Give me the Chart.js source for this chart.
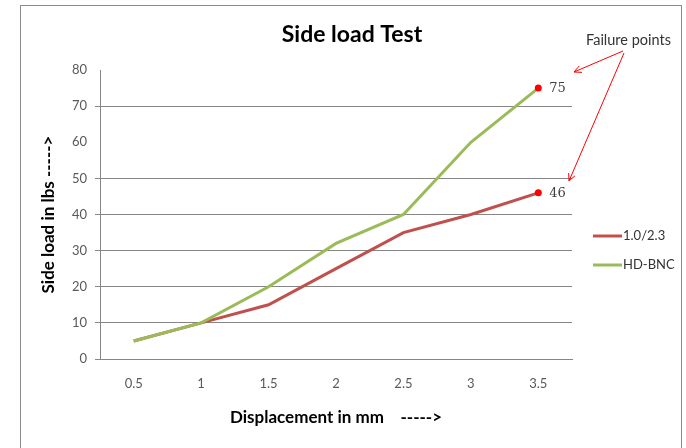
<!DOCTYPE html>
<html>
<head>
<meta charset="utf-8">
<script src="https://cdn.jsdelivr.net/npm/chart.js@4"></script>
<style>
  html, body { margin: 0; padding: 0; background: #fff; }
  #wrap { position: relative; width: 686px; height: 448px; overflow: hidden; }
  #frame { position: absolute; left: 20px; top: 5px; width: 662px; height: 460px; border: 1px solid #8c8c8c; box-sizing: border-box; }
  canvas { position: absolute; left: 0; top: 0; }
</style>
</head>
<body>
<div id="wrap">
  <div id="frame"></div>
  <canvas id="chart" width="686" height="448"></canvas>
</div>
<script>
const displacement = ['0.5', '1', '1.5', '2', '2.5', '3', '3.5'];
const load_1023 = [5, 10, 15, 25, 35, 40, 46];
const load_hdbnc = [5, 10, 20, 32, 40, 60, 75];
const yTicks = [0, 10, 20, 30, 40, 50, 60, 70, 80];

const FONT = 'Lato, "Open Sans", sans-serif';
const lastPoint = (ctx) => ctx.dataIndex === ctx.dataset.data.length - 1;

const decorations = {
  id: 'decorations',
  afterDatasetsDraw(chart) {
    const { ctx } = chart;
    ctx.save();

    // title
    ctx.fillStyle = '#000';
    ctx.font = 'bold 23px ' + FONT;
    ctx.textAlign = 'center';
    ctx.textBaseline = 'middle';
    ctx.fillText('Side load Test', 352, 35);

    // failure labels next to the last points
    ctx.font = '13px "DejaVu Serif", serif';
    ctx.fillStyle = '#404040';
    ctx.textAlign = 'left';
    chart.data.datasets.forEach((ds, i) => {
      const pt = chart.getDatasetMeta(i).data[ds.data.length - 1];
      ctx.fillText(String(ds.data[ds.data.length - 1]), pt.x + 11, pt.y + 1);
    });

    // legend
    ctx.font = '13px ' + FONT;
    chart.data.datasets.forEach((ds, i) => {
      const y = 236 + i * 29;
      ctx.strokeStyle = ds.borderColor;
      ctx.lineWidth = 3;
      ctx.beginPath();
      ctx.moveTo(593, y);
      ctx.lineTo(622, y);
      ctx.stroke();
      ctx.fillStyle = '#333';
      ctx.fillText(ds.label, 623, y);
    });

    // failure points annotation
    ctx.font = '14.5px ' + FONT;
    ctx.fillStyle = '#333';
    ctx.fillText('Failure points', 586, 40);
    const arrow = (x1, y1, x2, y2) => {
      ctx.strokeStyle = '#ff0000';
      ctx.lineWidth = 1;
      ctx.beginPath();
      ctx.moveTo(x1, y1);
      ctx.lineTo(x2, y2);
      ctx.stroke();
      const a = Math.atan2(y2 - y1, x2 - x1);
      ctx.beginPath();
      ctx.moveTo(x2 - 8 * Math.cos(a - 0.45), y2 - 8 * Math.sin(a - 0.45));
      ctx.lineTo(x2, y2);
      ctx.lineTo(x2 - 8 * Math.cos(a + 0.45), y2 - 8 * Math.sin(a + 0.45));
      ctx.stroke();
    };
    arrow(623, 51, 574, 72);
    arrow(624, 53, 569, 181);

    ctx.restore();
  }
};

const pointStyle = {
  pointRadius: (ctx) => lastPoint(ctx) ? 3.5 : 0,
  pointBackgroundColor: '#ff0000',
  pointBorderColor: '#ff0000',
  pointBorderWidth: 0
};

new Chart(document.getElementById('chart'), {
  type: 'line',
  data: {
    labels: displacement,
    datasets: [
      { label: '1.0/2.3', data: load_1023, borderColor: '#c0504d', borderWidth: 3, tension: 0, order: 2, ...pointStyle },
      { label: 'HD-BNC', data: load_hdbnc, borderColor: '#9bbb59', borderWidth: 3, tension: 0, order: 1, ...pointStyle }
    ]
  },
  options: {
    responsive: false,
    animation: false,
    layout: { padding: { left: 0, right: 114, top: 70, bottom: 0 } },
    plugins: {
      legend: { display: false },
      title: { display: false },
      tooltip: { enabled: false }
    },
    scales: {
      x: {
        offset: true,
        grid: { display: false, tickLength: 0 },
        border: { display: true, color: '#868686', width: 1 },
        ticks: { color: '#595959', font: { family: FONT, size: 13 }, padding: 17, maxRotation: 0 },
        title: {
          display: true,
          text: 'Displacement in mm    ----->',
          color: '#000',
          font: { family: FONT, size: 17, weight: 'bold' },
          padding: { top: 0, bottom: 20 }
        },
        afterFit: (scale) => { scale.height = 448 - 359; }
      },
      y: {
        min: 0,
        max: 80,
        afterBuildTicks: (scale) => { scale.ticks = yTicks.map((v) => ({ value: v })); },
        grid: {
          color: (ctx) => (ctx.tick && (ctx.tick.value === 60 || ctx.tick.value === 80)) ? 'rgba(0,0,0,0)' : '#868686',
          tickLength: 5,
          drawTicks: true
        },
        border: { display: true, color: '#868686', width: 1 },
        ticks: { color: '#595959', font: { family: FONT, size: 13 }, padding: 8 },
        title: {
          display: true,
          text: 'Side load in lbs ----->',
          color: '#000',
          font: { family: FONT, size: 17, weight: 'bold' },
          padding: { top: 38, bottom: 0 }
        },
        afterFit: (scale) => { scale.width = 100; }
      }
    }
  },
  plugins: [decorations]
});
</script>
</body>
</html>
